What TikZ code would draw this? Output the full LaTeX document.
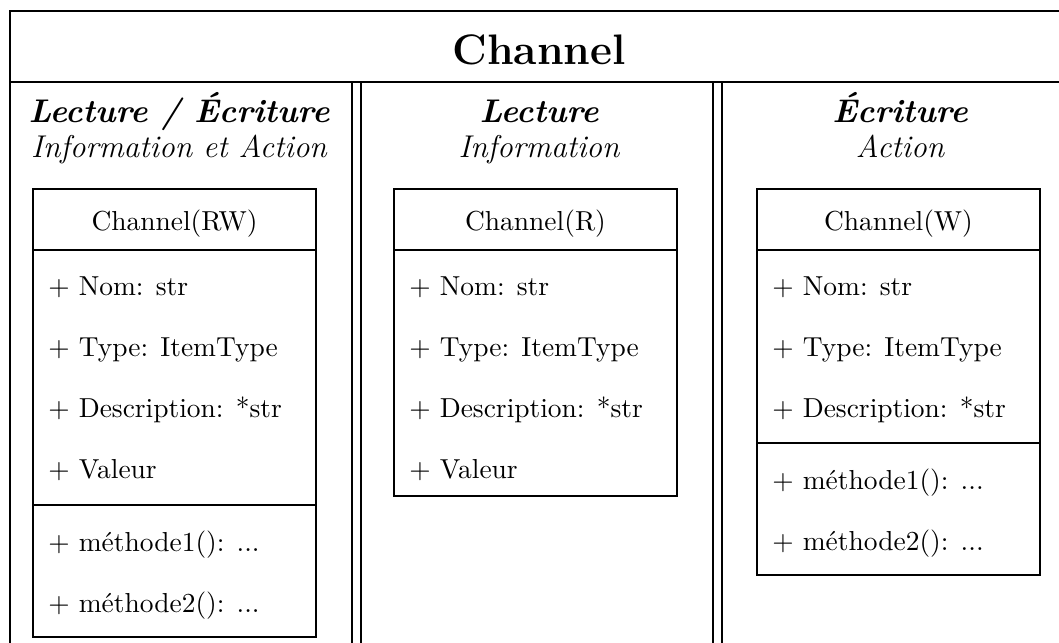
\documentclass[tikz,border=0pt]{standalone}
\usepackage{fontspec}
\begin{document}
\begin{tikzpicture}[x=0.375pt,y=-0.375pt,line width=0.95pt,
  attr/.style={anchor=base west,inner sep=0pt,font=\fontsize{10.3}{12}\selectfont},
  cls/.style={anchor=base,inner sep=0pt,font=\fontsize{10.3}{12}\selectfont},
  colhead/.style={anchor=base,inner sep=0pt,font=\fontsize{12.3}{14}\selectfont\bfseries\itshape},
  colsub/.style={anchor=base,inner sep=0pt,font=\fontsize{11.8}{14}\selectfont\itshape},
  titletext/.style={anchor=base,inner sep=0pt,font=\fontsize{16}{19}\selectfont\bfseries}]
\clip (0,0) rectangle (1059,642);
% outer frame
\draw (10,11) rectangle (1075,700);
\draw (10,82) -- (1075,82);
\draw (352,82) -- (352,700);
\draw (361,82) -- (361,700);
\draw (713,82) -- (713,700);
\draw (722,82) -- (722,700);
\node[titletext] (title) at (539,65) {Channel};
% column headings
\node[colhead] (h1) at (179,123) {Lecture / Écriture};
\node[colsub] (s1) at (179,158) {Information et Action};
\node[colhead] (h2) at (539,123) {Lecture};
\node[colsub] (s2) at (539,158) {Information};
\node[colhead] (h3) at (900,123) {Écriture};
\node[colsub] (s3) at (900,158) {Action};
% box 1
\draw (33,189) rectangle (316,637);
\draw (33,250) -- (316,250);
\draw (33,505) -- (316,505);
\node[cls] (c1) at (174.5,231) {Channel(RW)};
\node[attr] (a11) at (47,295) {+ Nom: str};
\node[attr] (a12) at (47,356) {+ Type: ItemType};
\node[attr] (a13) at (47,417) {+ Description: *str};
\node[attr] (a14) at (47,478) {+ Valeur};
\node[attr] (m11) at (47,551) {+ méthode1(): ...};
\node[attr] (m12) at (47,612) {+ méthode2(): ...};
% box 2
\draw (394,189) rectangle (677,496);
\draw (394,250) -- (677,250);
\node[cls] (c2) at (535.5,231) {Channel(R)};
\node[attr] (a21) at (408,295) {+ Nom: str};
\node[attr] (a22) at (408,356) {+ Type: ItemType};
\node[attr] (a23) at (408,417) {+ Description: *str};
\node[attr] (a24) at (408,478) {+ Valeur};
% box 3
\draw (757,189) rectangle (1040,575);
\draw (757,250) -- (1040,250);
\draw (757,443) -- (1040,443);
\node[cls] (c3) at (898.5,231) {Channel(W)};
\node[attr] (a31) at (771,295) {+ Nom: str};
\node[attr] (a32) at (771,356) {+ Type: ItemType};
\node[attr] (a33) at (771,417) {+ Description: *str};
\node[attr] (m31) at (771,489) {+ méthode1(): ...};
\node[attr] (m32) at (771,550) {+ méthode2(): ...};
\end{tikzpicture}
\end{document}
